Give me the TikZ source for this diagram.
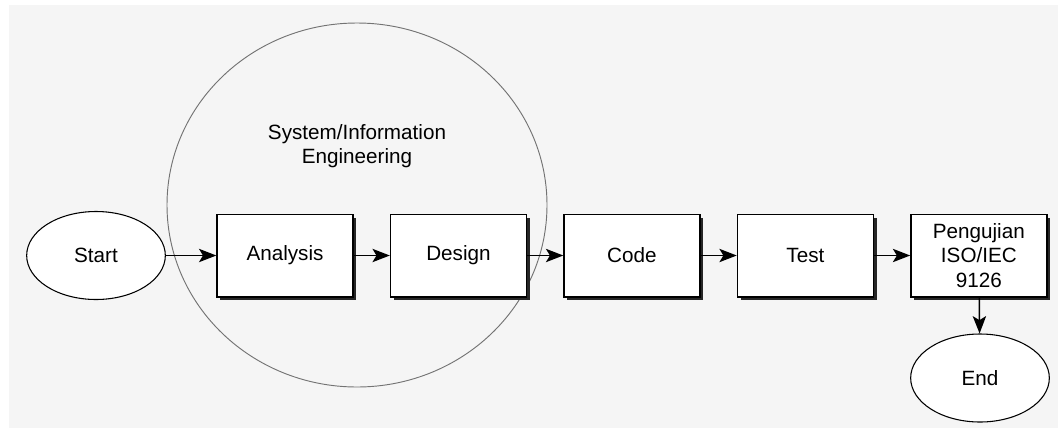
\documentclass[tikz,border=0pt]{standalone}
\usepackage{fontspec}
\setmainfont{Liberation Sans}
\usetikzlibrary{shapes.geometric, arrows.meta, positioning, shadows}
\definecolor{bggray}{HTML}{F5F5F5}
\tikzstyle{startstop} = [ellipse, minimum width=104pt, minimum height=66pt, draw=black, fill=white, line width=0.8pt]
\tikzstyle{process} = [rectangle, minimum width=102pt, minimum height=62pt, text centered, align=center, draw=black, fill=white, line width=1pt, drop shadow={shadow xshift=2.6pt, shadow yshift=-2.6pt, fill=black!85, opacity=1}]
\tikzstyle{phase} = [ellipse, minimum width=285pt, minimum height=273pt, draw=black!55, line width=0.7pt]
\tikzstyle{arrow} = [line width=1.1pt, -{Stealth[length=13pt, width=10pt, inset=3pt]}]

\begin{document}
\begin{tikzpicture}[x=0.75pt, y=0.75pt, node distance=130.1pt, font=\fontsize{15.5}{18.5}\selectfont]
    \fill [white] (0,0) rectangle (1058,-433);
    \fill [bggray] (9,-5) rectangle (1058,-428);
    \node (sie) [phase] at (357,-205) {};
    \node (sielabel) [align=center] at (357,-146) {System/Information\\Engineering};
    \node (start) [startstop] at (96,-255.5) {Start};
    \node (analysis) [process] at (285,-255.5) {Analysis};
    \node (design) [process, right of=analysis] {Design};
    \node (code) [process, right of=design] {Code};
    \node (test) [process, right of=code] {Test};
    \node (iso) [process, right of=test] {Pengujian\\ISO/IEC\\9126};
    \node (end) [startstop] at (980,-378) {End};
    \draw [arrow] (start) -- (analysis);
    \draw [arrow] (analysis) -- (design);
    \draw [arrow] (design) -- (code);
    \draw [arrow] (code) -- (test);
    \draw [arrow] (test) -- (iso);
    \draw [arrow] (iso) -- (end);
\end{tikzpicture}
\end{document}
